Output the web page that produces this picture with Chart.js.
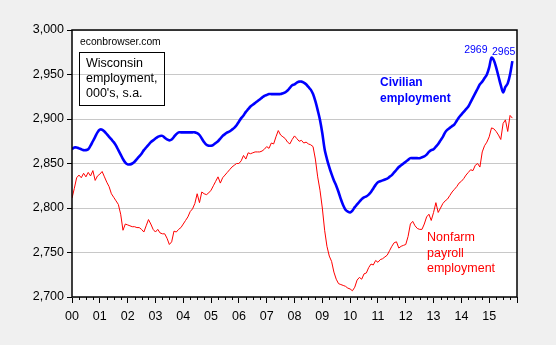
<!DOCTYPE html>
<html>
<head>
<meta charset="utf-8">
<script src="https://cdn.jsdelivr.net/npm/chart.js@4/dist/chart.umd.min.js"></script>
<style>
  html, body { margin: 0; padding: 0; background: #f0f0f0; }
  canvas { display: block; }
</style>
</head>
<body>
<canvas id="chart" width="556" height="345"></canvas>
<script>
// monthly, Jan 2000 .. Nov 2015, thousands, s.a.
const startYear = 2000;
const civilian = [
  2866, 2868, 2868, 2867, 2866, 2865, 2865, 2866, 2870, 2875, 2880, 2885,
  2888, 2888, 2886, 2883, 2880, 2877, 2874, 2870, 2865, 2860, 2855, 2851,
  2849, 2849, 2850, 2852, 2855, 2858, 2861, 2865, 2868, 2871, 2874, 2876,
  2878, 2880, 2881, 2881, 2879, 2877, 2876, 2877, 2880, 2883, 2885, 2885,
  2885, 2885, 2885, 2885, 2885, 2885, 2884, 2882, 2878, 2874, 2871, 2870,
  2870, 2871, 2873, 2875, 2878, 2881, 2883, 2885, 2886, 2888, 2890, 2893,
  2897, 2901, 2904, 2908, 2911, 2914, 2916, 2918, 2920, 2922, 2924, 2926,
  2927, 2928, 2928, 2928, 2928, 2928, 2928, 2929, 2930, 2932, 2935, 2938,
  2939, 2941, 2942, 2942, 2941, 2939, 2936, 2933, 2928, 2920, 2910, 2899,
  2884, 2866, 2855, 2846, 2838, 2831, 2825, 2818, 2810, 2803, 2798, 2796,
  2795, 2797, 2801, 2804, 2807, 2810, 2812, 2813, 2815, 2818, 2822, 2826,
  2829, 2830, 2831, 2832, 2833, 2835, 2837, 2840, 2843, 2846, 2848, 2850,
  2852, 2854, 2856, 2856, 2856, 2856, 2856, 2857, 2858, 2860, 2863, 2865,
  2866, 2869, 2872, 2876, 2880, 2885, 2888, 2890, 2892, 2894, 2898, 2902,
  2905, 2908, 2911, 2914, 2919, 2924, 2929, 2934, 2939, 2942, 2946, 2950,
  2958, 2969, 2966, 2958, 2948, 2938, 2930, 2936, 2940, 2950, 2965
];
const nonfarm = [
  2811, 2822, 2834, 2837, 2834, 2839, 2835, 2840, 2836, 2842, 2831, 2836,
  2838, 2841, 2835, 2829, 2824, 2816, 2812, 2808, 2804, 2793, 2775, 2782,
  2781, 2780, 2779, 2779, 2778, 2778, 2776, 2773, 2780, 2787, 2782, 2776,
  2773, 2776, 2772, 2771, 2771, 2766, 2759, 2762, 2774, 2773, 2776, 2778,
  2782, 2786, 2790, 2796, 2799, 2805, 2816, 2806, 2818, 2816, 2815, 2817,
  2820, 2825, 2830, 2835, 2828, 2834, 2837, 2840, 2843, 2846, 2848, 2850,
  2850, 2853, 2859, 2855, 2862, 2861, 2862, 2863, 2863, 2863, 2864, 2866,
  2869, 2867, 2873, 2872, 2880, 2887, 2882, 2880, 2878, 2874, 2872, 2877,
  2881, 2878, 2875, 2876, 2873, 2874, 2872, 2871, 2869, 2855, 2835, 2820,
  2800, 2775, 2757, 2746, 2740, 2728, 2720, 2715, 2714, 2713, 2712, 2710,
  2709, 2707, 2711, 2719, 2722, 2720, 2726, 2727, 2733, 2737, 2736, 2741,
  2739, 2742, 2743, 2745, 2747, 2752, 2757, 2761, 2762, 2755, 2757, 2758,
  2759, 2768, 2782, 2785, 2780, 2777, 2776, 2776, 2782, 2790, 2793, 2786,
  2795, 2806, 2795, 2800, 2805, 2808, 2810, 2814, 2818, 2821, 2824, 2828,
  2830, 2833, 2837, 2840, 2843, 2842, 2848, 2850, 2846, 2863, 2870, 2874,
  2880, 2890, 2889, 2886, 2882, 2877, 2895, 2899, 2886, 2904, 2901
];
const yTicks = [2700, 2750, 2800, 2850, 2900, 2950, 3000];
const yearTicks = [2000, 2001, 2002, 2003, 2004, 2005, 2006, 2007, 2008,
                   2009, 2010, 2011, 2012, 2013, 2014, 2015, 2016];

const FONT = "'Liberation Sans', Arial, sans-serif";
const toPoints = arr => arr.map((v, i) => ({ x: startYear + i / 12, y: v }));

const framePlugin = {
  id: 'frame',
  beforeDraw(chart) {
    const { ctx, chartArea: a } = chart;
    ctx.save();
    ctx.fillStyle = '#ffffff';
    ctx.fillRect(a.left, a.top, a.right - a.left, a.bottom - a.top);
    ctx.restore();
  },
  afterDraw(chart) {
    const { ctx, chartArea: a, scales } = chart;
    ctx.save();
    ctx.strokeStyle = '#000';
    ctx.lineWidth = 1.5;
    ctx.strokeRect(a.left, a.top, a.right - a.left, a.bottom - a.top);

    // quarterly minor ticks
    ctx.lineWidth = 1;
    ctx.beginPath();
    for (let q = 0; q < (yearTicks.length - 1) * 4; q++) {
      if (q % 4 === 0) continue;
      const x = Math.round(scales.x.getPixelForValue(yearTicks[0] + q / 4)) + 0.5;
      ctx.moveTo(x, a.bottom);
      ctx.lineTo(x, a.bottom + 3);
    }
    ctx.stroke();

    // notes
    ctx.fillStyle = '#000';
    ctx.textBaseline = 'middle';
    ctx.font = `10.3px ${FONT}`;
    ctx.fillText('econbrowser.com', 80, 42);

    ctx.strokeRect(79.5, 52.5, 85, 53);
    ctx.font = `12.5px ${FONT}`;
    ctx.fillText('Wisconsin', 86, 64);
    ctx.fillText('employment,', 86, 79);
    ctx.fillText("000's, s.a.", 86, 94);

    ctx.fillStyle = '#0000ff';
    ctx.font = `bold 12px ${FONT}`;
    ctx.fillText('Civilian', 380, 83);
    ctx.fillText('employment', 380, 99);

    ctx.fillStyle = '#ff0000';
    ctx.font = `12.5px ${FONT}`;
    ctx.fillText('Nonfarm', 427, 238);
    ctx.fillText('payroll', 427, 254);
    ctx.fillText('employment', 427, 269);

    // value labels on the civilian line
    const peak = civilian.indexOf(Math.max(...civilian));
    const last = civilian.length - 1;
    ctx.fillStyle = '#0000ff';
    ctx.font = `10.5px ${FONT}`;
    ctx.textAlign = 'right';
    ctx.fillText(String(civilian[peak]), scales.x.getPixelForValue(startYear + peak / 12) - 4, 50);
    ctx.fillText(String(civilian[last]), scales.x.getPixelForValue(startYear + last / 12) + 3, 52);
    ctx.restore();
  }
};

new Chart(document.getElementById('chart'), {
  type: 'line',
  data: {
    datasets: [
      { data: toPoints(nonfarm), borderColor: '#ff0000', borderWidth: 1, pointRadius: 0, tension: 0 },
      { data: toPoints(civilian), borderColor: '#0000ff', borderWidth: 2.6, pointRadius: 0, tension: 0.3 }
    ]
  },
  options: {
    responsive: false,
    animation: false,
    layout: { padding: { left: 0, top: 30, right: 39, bottom: 0 } },
    plugins: { legend: { display: false }, tooltip: { enabled: false } },
    scales: {
      x: {
        type: 'linear',
        min: yearTicks[0],
        max: yearTicks[yearTicks.length - 1],
        afterBuildTicks: s => { s.ticks = yearTicks.map(v => ({ value: v })); },
        afterFit: s => { s.height = 48; },
        grid: { drawOnChartArea: false, tickLength: 6, tickColor: '#000', lineWidth: 1 },
        border: { display: false },
        ticks: {
          autoSkip: false, maxRotation: 0, padding: 6, color: '#000',
          font: { family: FONT, size: 12.5 },
          callback: v => v < yearTicks[yearTicks.length - 1] ? String(v % 100).padStart(2, '0') : ''
        }
      },
      y: {
        min: yTicks[0],
        max: yTicks[yTicks.length - 1],
        afterBuildTicks: s => { s.ticks = yTicks.map(v => ({ value: v })); },
        afterFit: s => { s.width = 72; },
        grid: { color: '#c8c8c8', tickColor: '#000', tickLength: 5, lineWidth: 1 },
        border: { display: false },
        ticks: {
          padding: 3, color: '#000',
          font: { family: FONT, size: 12.5 },
          callback: v => v.toLocaleString('en-US')
        }
      }
    }
  },
  plugins: [framePlugin]
});
</script>
</body>
</html>
